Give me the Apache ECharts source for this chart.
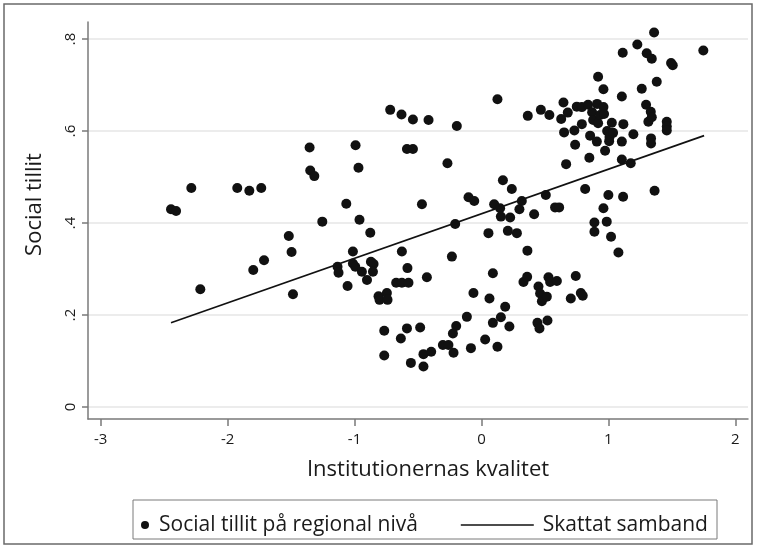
<!DOCTYPE html>
<html>
<head>
<meta charset="utf-8">
<script src="https://cdn.jsdelivr.net/npm/echarts@6/dist/echarts.min.js"></script>
<style>
  html, body { margin: 0; padding: 0; background: #ffffff; }
  #chart { width: 757px; height: 548px; }
</style>
</head>
<body>
<div id="chart"></div>
<script>
// Institutional quality (x) and regional social trust (y), one entry per region
const kvalitet = [
  -2.446, -2.406, -2.286, -2.215, -1.924, -1.829, -1.735, -1.798, -1.713, -1.518,
  -1.496, -1.485, -1.354, -1.349, -1.317, -1.254, -1.134, -1.126, -1.065, -1.055,
  -1.013, -1.013, -0.994, -0.992, -0.969, -0.961, -0.942, -0.902, -0.876, -0.871,
  -0.850, -0.855, -0.811, -0.745, -0.803, -0.740, -0.766, -0.766, -0.719, -0.672,
  -0.627, -0.575, -0.630, -0.627, -0.635, -0.587, -0.540, -0.540, -0.587, -0.583,
  -0.556, -0.483, -0.469, -0.457, -0.457, -0.430, -0.417, -0.396, -0.304, -0.268,
  -0.260, -0.233, -0.225, -0.220, -0.207, -0.199, -0.194, -0.115, -0.102, -0.083,
  -0.063, -0.057, 0.029, 0.055, 0.063, 0.090, 0.090, 0.100, 0.126, 0.126,
  0.147, 0.153, 0.153, 0.169, 0.187, 0.208, 0.220, 0.226, 0.239, 0.279,
  0.299, 0.318, 0.331, 0.360, 0.362, 0.365, 0.415, 0.441, 0.449, 0.457,
  0.462, 0.476, 0.468, 0.507, 0.515, 0.520, 0.528, 0.535, 0.541, 0.580,
  0.612, 0.594, 0.628, 0.646, 0.651, 0.667, 0.680, 0.704, 0.732, 0.738,
  0.743, 0.751, 0.783, 0.798, 0.791, 0.791, 0.817, 0.840, 0.850, 0.856,
  0.872, 0.880, 0.890, 0.890, 0.909, 0.911, 0.919, 0.919, 0.935, 0.961,
  0.961, 0.961, 0.966, 0.974, 0.987, 0.990, 1.000, 1.006, 1.009, 1.021,
  1.027, 1.037, 1.079, 1.106, 1.106, 1.106, 1.113, 1.116, 1.118, 1.176,
  1.197, 1.228, 1.263, 1.297, 1.302, 1.315, 1.334, 1.336, 1.336, 1.342,
  1.342, 1.360, 1.364, 1.381, 1.460, 1.460, 1.460, 1.494, 1.507, 1.748
];
const tillit = [
  0.430, 0.426, 0.476, 0.256, 0.476, 0.470, 0.476, 0.298, 0.319, 0.372,
  0.337, 0.245, 0.564, 0.514, 0.502, 0.403, 0.305, 0.292, 0.442, 0.263,
  0.338, 0.312, 0.305, 0.569, 0.520, 0.407, 0.294, 0.276, 0.379, 0.316,
  0.311, 0.294, 0.241, 0.248, 0.233, 0.233, 0.166, 0.112, 0.646, 0.270,
  0.270, 0.270, 0.636, 0.338, 0.149, 0.561, 0.561, 0.625, 0.171, 0.302,
  0.096, 0.173, 0.441, 0.088, 0.115, 0.282, 0.624, 0.120, 0.135, 0.530,
  0.135, 0.327, 0.160, 0.118, 0.398, 0.176, 0.611, 0.196, 0.456, 0.128,
  0.248, 0.448, 0.147, 0.378, 0.236, 0.291, 0.183, 0.441, 0.669, 0.131,
  0.432, 0.414, 0.195, 0.493, 0.218, 0.383, 0.175, 0.412, 0.474, 0.378,
  0.430, 0.448, 0.272, 0.283, 0.340, 0.633, 0.419, 0.183, 0.262, 0.171,
  0.247, 0.230, 0.646, 0.461, 0.240, 0.188, 0.282, 0.635, 0.272, 0.434,
  0.434, 0.274, 0.626, 0.662, 0.597, 0.528, 0.640, 0.236, 0.601, 0.570,
  0.285, 0.653, 0.248, 0.242, 0.652, 0.615, 0.474, 0.657, 0.542, 0.590,
  0.641, 0.624, 0.401, 0.381, 0.577, 0.659, 0.617, 0.718, 0.635, 0.691,
  0.652, 0.432, 0.637, 0.557, 0.403, 0.600, 0.461, 0.578, 0.587, 0.370,
  0.618, 0.596, 0.336, 0.675, 0.577, 0.538, 0.770, 0.457, 0.615, 0.530,
  0.593, 0.788, 0.692, 0.657, 0.769, 0.620, 0.642, 0.584, 0.573, 0.757,
  0.630, 0.814, 0.470, 0.707, 0.620, 0.610, 0.601, 0.748, 0.743, 0.775
];

// Estimated linear relationship (endpoints of the fitted line)
const sambandX = [-2.446, 1.754];
const sambandY = [0.183, 0.590];

// Tick values
const xTicks = [-3, -2, -1, 0, 1, 2];
const yTicks = [0, 0.2, 0.4, 0.6, 0.8];

const scatterName = 'Social tillit på regional nivå';
const lineName = 'Skattat samband';
const FONT = '"Open Sans", "Noto Sans", sans-serif';
const INK = '#111111';

const points = kvalitet.map((x, i) => [x, tillit[i]]);
const linePts = sambandX.map((x, i) => [x, sambandY[i]]);

const chart = echarts.init(document.getElementById('chart'), null, { renderer: 'canvas' });

chart.setOption({
  backgroundColor: '#ffffff',
  animation: false,
  textStyle: { fontFamily: FONT },
  grid: { left: 88, right: 9, top: 22, bottom: 129, containLabel: false },
  xAxis: {
    type: 'value',
    min: -3.1,
    max: 2.1,
    name: 'Institutionernas kvalitet',
    nameLocation: 'middle',
    nameGap: 40,
    nameTextStyle: { fontSize: 22, color: '#1a1a1a', fontFamily: FONT, padding: [0, 0, 0, 20] },
    axisLine: { onZero: false, lineStyle: { color: '#7a7a7a', width: 1.5 } },
    axisTick: { show: true, length: 7, customValues: xTicks, lineStyle: { color: '#7a7a7a', width: 1.5 } },
    axisLabel: { customValues: xTicks, fontSize: 15, color: '#1a1a1a', margin: 13, fontFamily: FONT },
    splitLine: { show: false }
  },
  yAxis: {
    type: 'value',
    min: -0.026,
    max: 0.837,
    name: 'Social tillit',
    nameLocation: 'middle',
    nameGap: 42,
    nameTextStyle: { fontSize: 22, color: '#1a1a1a', fontFamily: FONT, padding: [0, 0, 0, 32] },
    axisLine: { onZero: false, lineStyle: { color: '#7a7a7a', width: 1.5 } },
    axisTick: { show: true, length: 6, customValues: yTicks, lineStyle: { color: '#7a7a7a', width: 1.5 } },
    axisLabel: {
      customValues: yTicks,
      rotate: 90,
      fontSize: 15,
      color: '#1a1a1a',
      margin: 10,
      fontFamily: FONT,
      formatter: v => (v === 0 ? '0' : String(v).replace(/^0\./, '.'))
    },
    splitLine: { show: true, lineStyle: { color: '#e6e6e6', width: 1.5 } }
  },
  legend: [
    {
      data: [{ name: scatterName, icon: 'circle' }],
      left: 136,
      top: 509,
      itemWidth: 18,
      itemHeight: 8,
      itemStyle: { color: INK, opacity: 1 },
      textStyle: { fontSize: 21, color: '#1a1a1a', fontFamily: FONT, lineHeight: 22 },
      selectedMode: false
    },
    {
      data: [{ name: lineName }],
      left: 455,
      top: 509,
      itemWidth: 73,
      itemHeight: 14,
      itemStyle: { opacity: 0 },
      lineStyle: { color: INK, width: 1.6, opacity: 1 },
      textStyle: { fontSize: 21, color: '#1a1a1a', fontFamily: FONT, lineHeight: 22, padding: [0, 0, 0, 4] },
      selectedMode: false
    }
  ],
  graphic: [
    {
      type: 'rect',
      silent: true,
      shape: { x: 4, y: 4, width: 748, height: 540 },
      style: { fill: 'none', stroke: '#6a6a6a', lineWidth: 1.5 },
      z: -1
    },
    {
      type: 'rect',
      silent: true,
      shape: { x: 133, y: 500, width: 584, height: 39 },
      style: { fill: 'none', stroke: '#7a7a7a', lineWidth: 1 },
      z: -1
    }
  ],
  series: [
    {
      name: scatterName,
      type: 'scatter',
      data: points,
      symbol: 'circle',
      symbolSize: 10,
      itemStyle: { color: INK, opacity: 1 },
      z: 2
    },
    {
      name: lineName,
      type: 'line',
      data: linePts,
      symbol: 'none',
      showSymbol: false,
      lineStyle: { color: INK, width: 1.6 },
      itemStyle: { color: INK },
      z: 3
    }
  ]
});
</script>
</body>
</html>
